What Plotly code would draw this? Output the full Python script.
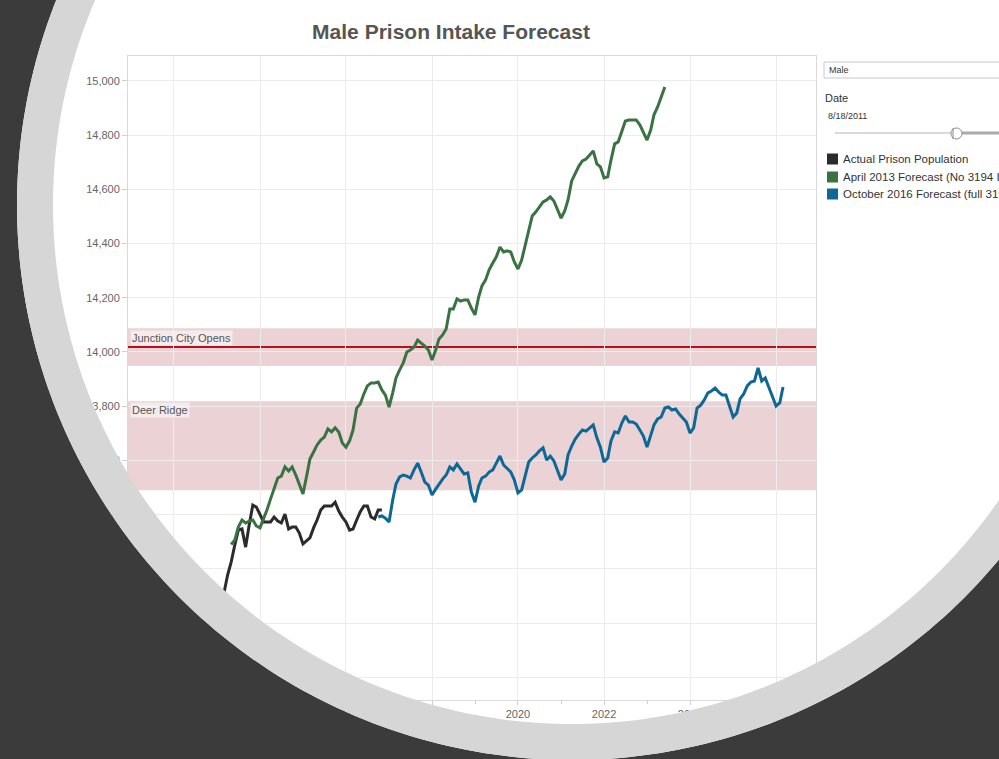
import numpy as np
import pandas as pd
import plotly.graph_objects as go

# monthly series, values
actual_start = "2013-01-01"
actual_pop = [13020, 13070, 13111, 13177, 13225, 13288, 13343, 13347, 13280, 13362, 13435, 13428,
              13399, 13373, 13373, 13373, 13391, 13376, 13369, 13402, 13347, 13354, 13354, 13332,
              13292, 13303, 13314, 13351, 13380, 13417, 13432, 13432, 13432, 13446, 13413, 13391,
              13373, 13343, 13347, 13380, 13410, 13432, 13432, 13391, 13384, 13417, 13417]

apr2013_start = "2013-05-01"
apr2013_fc = [13290, 13306, 13354, 13380, 13369, 13376, 13380, 13358, 13351, 13384, 13417, 13458,
              13494, 13535, 13542, 13576, 13561, 13576, 13546, 13513, 13476, 13542, 13605, 13631,
              13657, 13675, 13686, 13716, 13705, 13720, 13705, 13664, 13649, 13672, 13712, 13793,
              13808, 13845, 13875, 13886, 13886, 13889, 13860, 13841, 13797, 13849, 13904, 13934,
              13959, 14000, 14007, 14018, 14044, 14033, 14022, 14007, 13970, 14007, 14048, 14063,
              14085, 14159, 14159, 14196, 14188, 14192, 14192, 14162, 14137, 14203, 14244, 14266,
              14303, 14328, 14351, 14387, 14369, 14373, 14369, 14332, 14306, 14339, 14395, 14443,
              14502, 14517, 14535, 14554, 14561, 14572, 14557, 14524, 14494, 14520, 14561, 14631,
              14661, 14686, 14705, 14712, 14727, 14742, 14694, 14683, 14642, 14646, 14708, 14768,
              14775, 14815, 14852, 14856, 14856, 14856, 14838, 14812, 14782, 14819, 14875, 14904,
              14937, 14978]

oct2016_start = "2016-10-01"
oct2016_fc = [13391, 13395, 13387, 13373, 13454, 13513, 13539, 13546, 13542, 13535, 13565, 13590,
              13557, 13520, 13509, 13472, 13494, 13513, 13531, 13546, 13576, 13565, 13587, 13568,
              13550, 13554, 13483, 13446, 13506, 13535, 13542, 13557, 13565, 13590, 13616, 13583,
              13572, 13557, 13528, 13480, 13491, 13546, 13594, 13609, 13620, 13635, 13646, 13601,
              13616, 13598, 13565, 13528, 13550, 13620, 13653, 13679, 13697, 13712, 13708, 13720,
              13731, 13683, 13649, 13594, 13609, 13672, 13705, 13701, 13738, 13764, 13742, 13742,
              13734, 13712, 13690, 13649, 13690, 13731, 13753, 13760, 13793, 13797, 13786, 13790,
              13771, 13756, 13742, 13701, 13720, 13793, 13804, 13823, 13849, 13856, 13867, 13852,
              13841, 13841, 13797, 13760, 13775, 13827, 13845, 13875, 13889, 13893, 13941, 13893,
              13904, 13867, 13830, 13801, 13812, 13871]

series_names = ["Actual Prison Population",
                "April 2013 Forecast (No 3194 Implementation)",
                "October 2016 Forecast (full 3194 Implementation)"]
series_colors = ["#2b2b2b", "#3b7243", "#0e6896"]

# reference bands
junction_band = (13948, 14088)
junction_line = 14018
deer_band = (13490, 13818)

W, H = 999, 759
ML, MR, MT, MB = 128, 183, 56, 59
PW, PH = W - ML - MR, H - MT - MB


def px(x):
    return (x - ML) / PW


def py(y):
    return (H - MB - y) / PH


def circle_pts(cx, cy, r, n=360):
    t = np.linspace(0, 2 * np.pi, n, endpoint=False)
    return [(px(cx + r * np.cos(a)), py(cy + r * np.sin(a))) for a in t]


def path_of(pts):
    return "M" + "L".join(f"{x:.5f},{y:.5f}" for x, y in pts) + "Z"


fig = go.Figure()
starts = [actual_start, apr2013_start, oct2016_start]
for name, start, vals, col in zip(series_names, starts, [actual_pop, apr2013_fc, oct2016_fc], series_colors):
    dates = pd.date_range(start, periods=len(vals), freq="MS")
    fig.add_trace(go.Scatter(x=dates, y=vals, mode="lines", name=name,
                             line=dict(color=col, width=3), showlegend=False))

shapes = []
band_col = "#ebd3d5"
for lo, hi in [junction_band, deer_band]:
    shapes.append(dict(type="rect", xref="paper", yref="y", x0=0, x1=1, y0=lo, y1=hi,
                       fillcolor=band_col, line=dict(width=0), layer="below"))
shapes.append(dict(type="line", xref="paper", yref="y", x0=0, x1=1, y0=junction_line, y1=junction_line,
                   line=dict(color="#b0121e", width=2), layer="between"))

# right-hand panel
shapes.append(dict(type="rect", xref="paper", yref="paper", x0=px(824), x1=px(1010), y0=py(78), y1=py(62),
                   line=dict(color="#c8c8c8", width=1), fillcolor="white"))
shapes.append(dict(type="line", xref="paper", yref="paper", x0=px(835), x1=px(953), y0=py(133), y1=py(133),
                   line=dict(color="#dadada", width=2)))
shapes.append(dict(type="line", xref="paper", yref="paper", x0=px(958), x1=px(1002), y0=py(133), y1=py(133),
                   line=dict(color="#aaaaaa", width=3)))
shapes.append(dict(type="circle", xref="paper", yref="paper", x0=px(951), x1=px(962), y0=py(139), y1=py(128),
                   line=dict(color="#8a8a8a", width=1), fillcolor="white"))
shapes.append(dict(type="line", xref="paper", yref="paper", x0=px(953), x1=px(953), y0=py(139), y1=py(128),
                   line=dict(color="#8a8a8a", width=1)))
legend_y = [159, 177, 194]
for yy, col in zip(legend_y, series_colors):
    shapes.append(dict(type="rect", xref="paper", yref="paper", x0=px(827), x1=px(838),
                       y0=py(yy + 5.5), y1=py(yy - 5.5), fillcolor=col, line=dict(width=0)))

# circular frame over the page
outer = circle_pts(572, 205, 555)
inner = circle_pts(572, 205, 519)
big = [(px(-30), py(-30)), (px(W + 30), py(-30)), (px(W + 30), py(H + 30)), (px(-30), py(H + 30))]
shapes.append(dict(type="path", xref="paper", yref="paper", path=path_of(big) + path_of(outer),
                   fillcolor="#3b3b3b", fillrule="evenodd", line=dict(width=0), layer="above"))
shapes.append(dict(type="path", xref="paper", yref="paper", path=path_of(outer) + path_of(inner),
                   fillcolor="#d6d6d6", fillrule="evenodd", line=dict(width=0), layer="above"))

annotations = [
    dict(text="Junction City Opens", x=px(130), y=junction_band[1], xref="paper", yref="y",
         xanchor="left", yanchor="top", yshift=-2, showarrow=False, bgcolor="rgba(255,255,255,0.55)",
         borderpad=1, font=dict(size=11, color="#555555")),
    dict(text="Deer Ridge", x=px(130), y=deer_band[1], xref="paper", yref="y",
         xanchor="left", yanchor="top", yshift=-1, showarrow=False, bgcolor="rgba(255,255,255,0.55)",
         borderpad=1, font=dict(size=11, color="#555555")),
    dict(text="Male", x=px(827), y=py(70), xref="paper", yref="paper", xanchor="left", yanchor="middle",
         showarrow=False, font=dict(size=9, color="#333333")),
    dict(text="Date", x=px(823), y=py(98), xref="paper", yref="paper", xanchor="left", yanchor="middle",
         showarrow=False, font=dict(size=11, color="#333333")),
    dict(text="8/18/2011", x=px(826), y=py(116), xref="paper", yref="paper", xanchor="left", yanchor="middle",
         showarrow=False, font=dict(size=9, color="#333333")),
]
for yy, name in zip(legend_y, series_names):
    annotations.append(dict(text=name, x=px(841), y=py(yy), xref="paper", yref="paper",
                            xanchor="left", yanchor="middle", showarrow=False,
                            font=dict(size=11.5, color="#333333")))

fig.update_layout(
    width=W, height=H,
    margin=dict(l=ML, r=MR, t=MT, b=MB),
    paper_bgcolor="white", plot_bgcolor="white",
    font=dict(family="Liberation Sans, Arial, sans-serif", color="#666666"),
    title=dict(text="<b>Male Prison Intake Forecast</b>", x=451 / W, xanchor="center",
               y=1 - 32 / H, yanchor="middle", font=dict(size=21, color="#555555")),
    shapes=shapes, annotations=annotations,
)
fig.update_xaxes(type="date", range=["2010-12-07", "2026-12-06"], tick0="2012-01-01", dtick="M24",
                 tickformat="%Y", showgrid=True, gridcolor="#ececec", gridwidth=1,
                 showline=True, linecolor="#d9d9d9", mirror=True, ticks="outside", ticklen=4,
                 tickcolor="#d0d0d0", tickfont=dict(size=11, color="#666666"), automargin=False,
                 minor=dict(dtick="M12", ticks="outside", ticklen=3, tickcolor="#d0d0d0", showgrid=False))
fig.update_yaxes(range=[12716, 15092], tick0=0, dtick=200, tickformat=",",
                 showgrid=True, gridcolor="#ececec", gridwidth=1, zeroline=False,
                 showline=True, linecolor="#d9d9d9", mirror=True, ticks="outside", ticklen=5,
                 tickcolor="#d0d0d0", tickfont=dict(size=11, color="#666666"), automargin=False)

# page has a default body margin; drop it so the figure fills the window
fig.write_html("out.html", config={"displayModeBar": False},
               post_script="document.body.style.margin='0';document.body.style.overflow='hidden';")
